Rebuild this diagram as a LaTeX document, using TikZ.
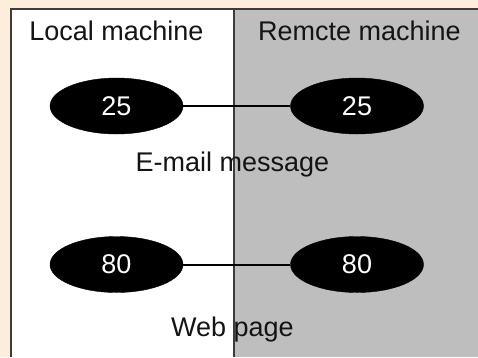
\documentclass[tikz,border=0pt]{standalone}
\usepackage{fontspec}
\setmainfont{Liberation Sans}
\usetikzlibrary{shapes.geometric}
\definecolor{peach}{RGB}{253,238,220}
\definecolor{panelgray}{RGB}{190,190,190}
\definecolor{framecol}{RGB}{60,60,60}
\definecolor{txt}{RGB}{20,20,20}
\tikzset{
  lbl/.style={anchor=base, inner sep=0pt, text=txt, font=\fontsize{27}{32}\selectfont},
  port/.style={ellipse, fill=black, draw=black, minimum width=133pt, minimum height=56pt, inner sep=0pt, text=white, font=\fontsize{27}{32}\selectfont},
  link/.style={line width=2pt, black}
}
\begin{document}
\begin{tikzpicture}[x=1pt,y=1pt]
\useasboundingbox (0,0) rectangle (478,-357);
\fill[peach] (0,0) rectangle (478,-357);
\fill[white] (11,-9) rectangle (234,-357);
\fill[panelgray] (234,-9) rectangle (478,-357);
\draw[framecol, line width=2pt] (11,-357) -- (11,-9) -- (478,-9);
\draw[framecol, line width=2pt] (234,-9) -- (234,-357);
\node[lbl] (loc) at (116.5,-40) {Local machine};
\node[lbl] (rem) at (359.5,-40) {Remcte machine};
\node[port] (l1) at (116.5,-106) {25};
\node[port] (r1) at (357,-106) {25};
\node[port] (l2) at (116.5,-264.5) {80};
\node[port] (r2) at (357,-264.5) {80};
\draw[link] (l1.east) -- (r1.west);
\draw[link] (l2.east) -- (r2.west);
\node[lbl] (mail) at (232.5,-171.5) {E-mail message};
\node[lbl] (web) at (232.5,-336) {Web page};
\end{tikzpicture}
\end{document}
